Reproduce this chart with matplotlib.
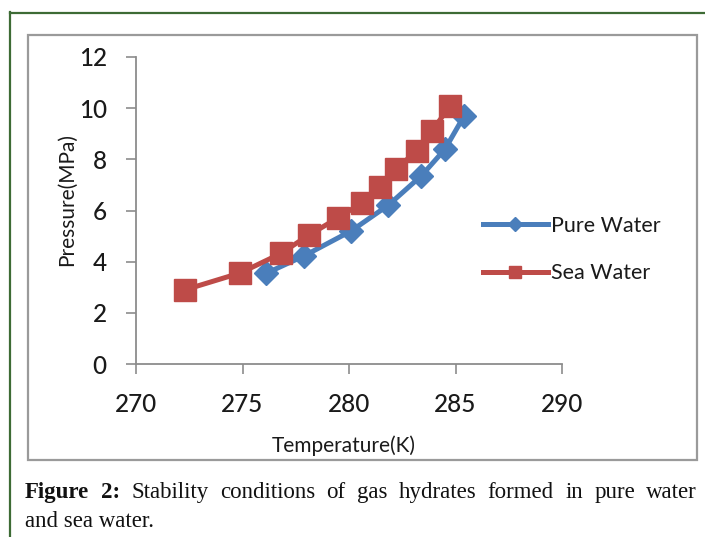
import matplotlib
matplotlib.use("Agg")
import matplotlib.pyplot as plt
from matplotlib.patches import Rectangle
from matplotlib.lines import Line2D

# Data
pure_temp = [276.1, 277.9, 280.1, 281.85, 283.4, 284.5, 285.4]
pure_pres = [3.54, 4.23, 5.2, 6.21, 7.36, 8.39, 9.69]

sea_temp = [272.3, 274.9, 276.8, 278.1, 279.5, 280.6, 281.45, 282.2, 283.2, 283.9, 284.75]
sea_pres = [2.9, 3.56, 4.32, 5.03, 5.72, 6.3, 6.9, 7.64, 8.32, 9.11, 10.1]

x_ticks = [270, 275, 280, 285, 290]
y_ticks = [0, 2, 4, 6, 8, 10, 12]

blue = "#4a7ebb"
red = "#be4b48"
axis_grey = "#8c8c8c"
W, H = 705, 537

plt.rcParams['font.family'] = ['Lato', 'DejaVu Sans']

fig = plt.figure(figsize=(W / 100, H / 100), dpi=100)

# outer green frame (left and top edges) and the grey chart box
fig.add_artist(Line2D([9.5 / W, 9.5 / W], [0, 1 - 12 / H], transform=fig.transFigure,
                      color="#3d6b35", lw=1.6))
fig.add_artist(Line2D([9.5 / W, 1], [1 - 12.5 / H, 1 - 12.5 / H], transform=fig.transFigure,
                      color="#3d6b35", lw=1.6))
fig.add_artist(Rectangle((28 / W, 1 - 460 / H), 669 / W, 425 / H, transform=fig.transFigure,
                         fill=False, edgecolor="#9a9a9a", lw=1.6))

ax = fig.add_axes([136 / W, 1 - 364 / H, 426 / W, 307 / H])
ax.plot(pure_temp, pure_pres, color=blue, lw=3.6, marker="D", ms=12,
        mfc=blue, mec=blue, label="Pure Water", zorder=3)
ax.plot(sea_temp, sea_pres, color=red, lw=3.6, marker="s", ms=15.5,
        mfc=red, mec=red, label="Sea Water", zorder=4)

ax.set_xlim(270, 290)
ax.set_ylim(0, 12)
ax.set_xticks(x_ticks)
ax.set_yticks(y_ticks)
for s in ["top", "right"]:
    ax.spines[s].set_visible(False)
for s in ["left", "bottom"]:
    ax.spines[s].set_color(axis_grey)
    ax.spines[s].set_linewidth(1.3)
ax.tick_params(colors=axis_grey, length=7, width=1.2, labelsize=17.5, labelcolor="#1a1a1a", pad=14)
for lab in ax.get_xticklabels() + ax.get_yticklabels():
    lab.set_fontweight("medium")

ax.set_xlabel("Temperature(K)", fontsize=15, color="#1a1a1a", labelpad=14)
ax.set_ylabel("Pressure(MPa)", fontsize=15, color="#1a1a1a", labelpad=1)
ax.xaxis.label.set_x(0.488)
ax.yaxis.label.set_y(0.535)

ax.legend(loc="center left", bbox_to_anchor=(483 / W, 1 - 249.5 / H), bbox_transform=fig.transFigure,
          frameon=False, fontsize=15.5, handlelength=3.0, handletextpad=0.15, labelspacing=1.3,
          markerscale=0.6, borderpad=0, borderaxespad=0, labelcolor="#1a1a1a")

# caption, first line justified between the box edges
renderer = fig.canvas.get_renderer()
line1 = [("Figure", "bold"), ("2:", "bold"), ("Stability", "normal"), ("conditions", "normal"),
         ("of", "normal"), ("gas", "normal"), ("hydrates", "normal"), ("formed", "normal"),
         ("in", "normal"), ("pure", "normal"), ("water", "normal")]
x_left, x_right = 25, 697
cap_font = ['Liberation Serif', 'DejaVu Serif']
texts = []
for word, weight in line1:
    t = fig.text(0, 1 - 498 / H, word, fontsize=16.5, fontweight=weight, family=cap_font,
                 va="baseline", ha="left", color="#111111")
    texts.append(t)
widths = [t.get_window_extent(renderer).width for t in texts]
gap = (x_right - x_left - sum(widths)) / (len(texts) - 1)
x = x_left
for t, w in zip(texts, widths):
    t.set_x(x / W)
    x += w + gap
fig.text(x_left / W, 1 - 527 / H, "and sea water.", fontsize=16.5, family=cap_font,
         va="baseline", ha="left", color="#111111")

fig.savefig("out.png", dpi=100)
